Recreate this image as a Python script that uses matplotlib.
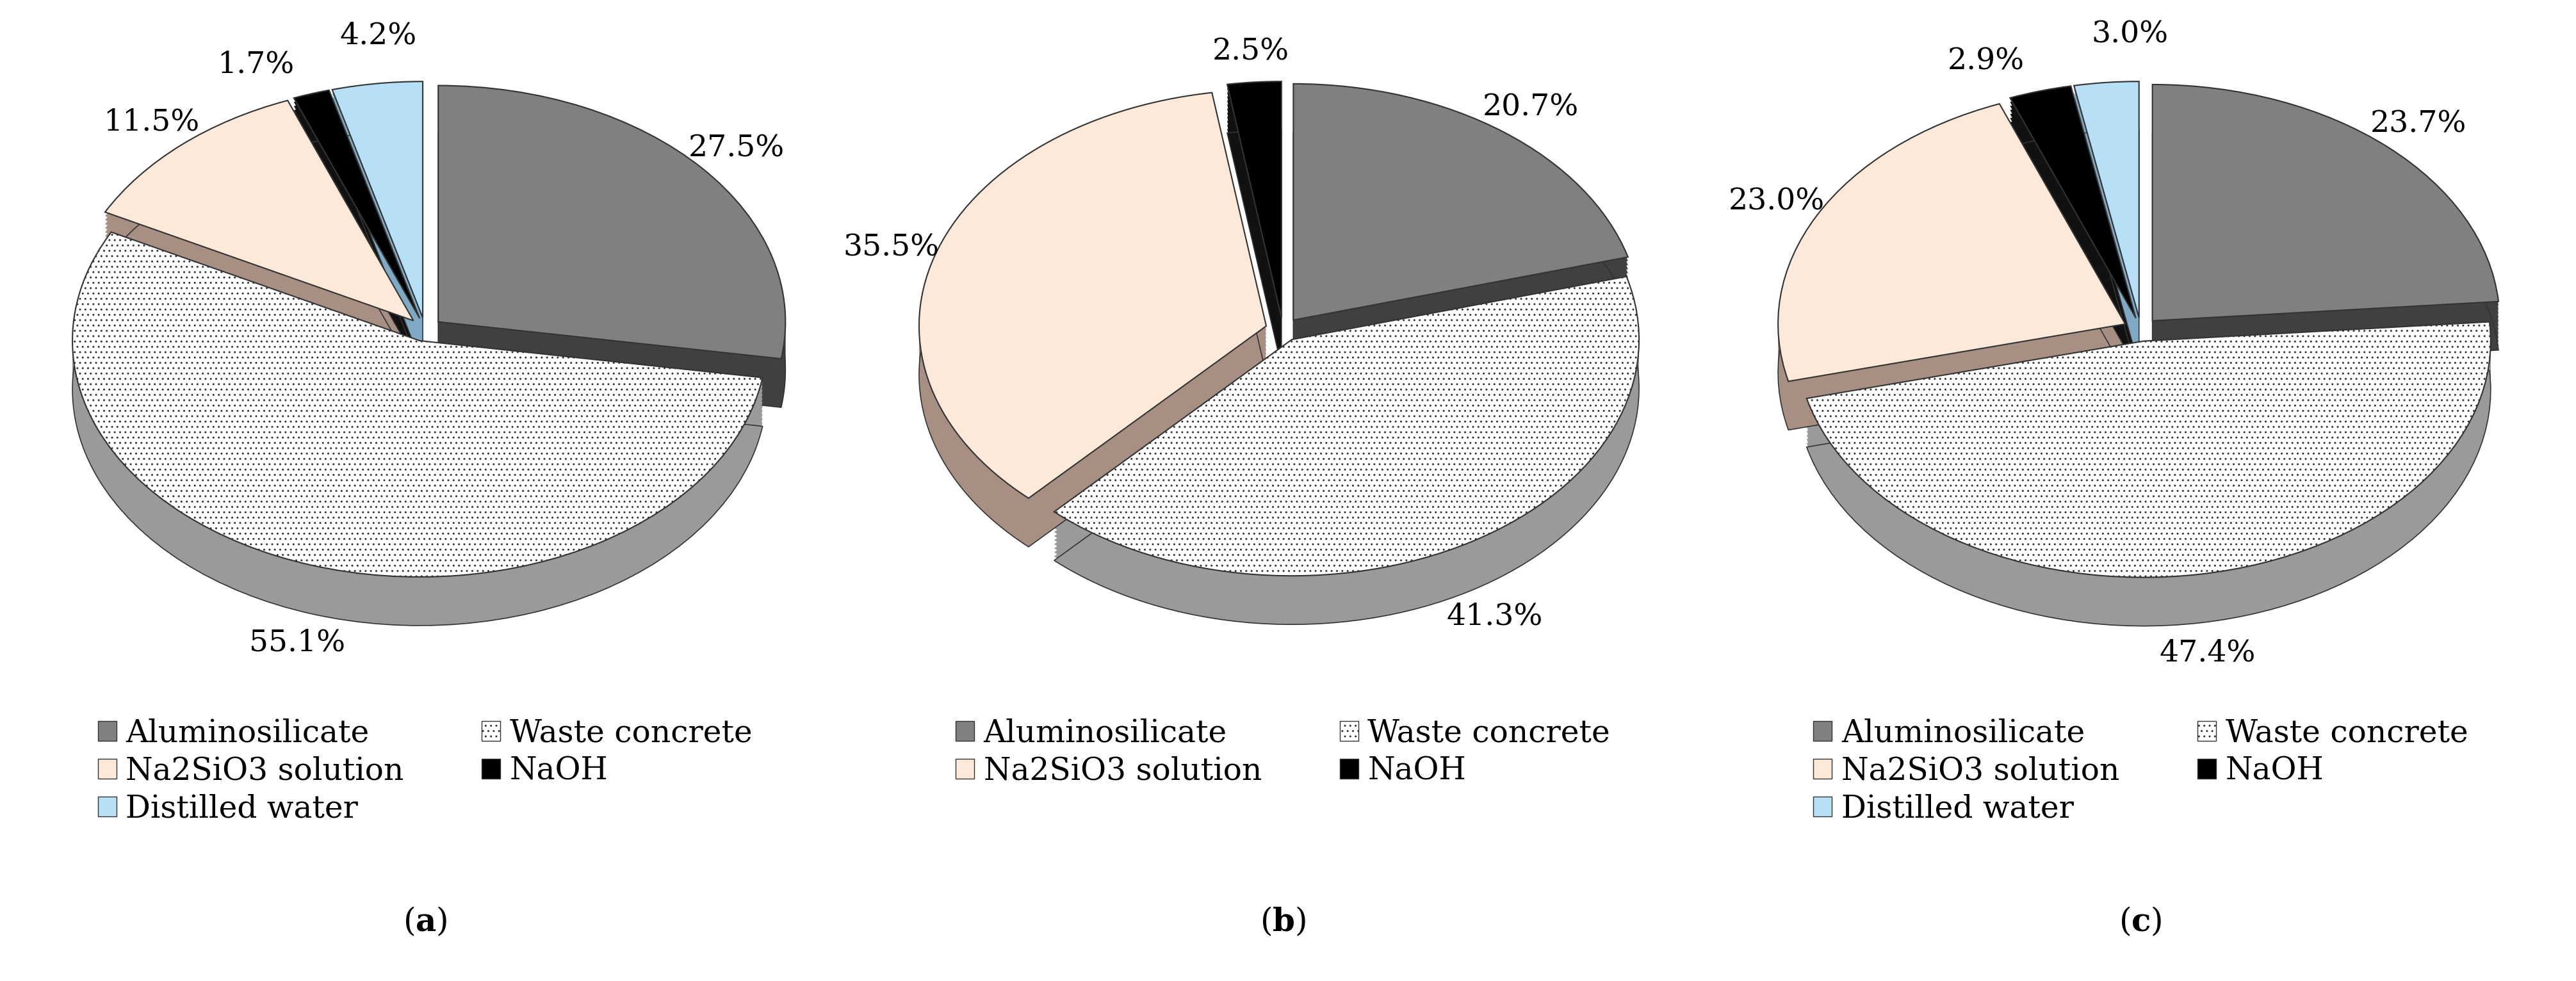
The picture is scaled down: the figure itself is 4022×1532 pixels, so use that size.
import numpy as np
import matplotlib.pyplot as plt
from matplotlib.patches import Wedge, Patch
from matplotlib.transforms import Affine2D

plt.rcParams['font.family'] = ['DejaVu Serif']
plt.rcParams['mathtext.fontset'] = 'dejavuserif'

names = ['Aluminosilicate', 'Waste concrete', 'Na2SiO3 solution', 'NaOH', 'Distilled water']
vals_a = [27.5, 55.1, 11.5, 1.7, 4.2]
vals_b = [20.7, 41.3, 35.5, 2.5]
vals_c = [23.7, 47.4, 23.0, 2.9, 3.0]
captions = ['a', 'b', 'c']

tops = ['#808080', 'white', '#fde9d9', 'black', '#b7dff5']
sides = ['#404040', '#9a9a9a', '#a88f84', '#111111', '#7fa9c4']
hatches = [None, '..', None, None, None]

SQ = 0.68     # vertical squash
DEPTH = 0.14
EXPL = 0.05


def draw_pie(ax, vals, cap, lab_off):
    tr = Affine2D().scale(1, SQ) + ax.transData
    tot = sum(vals)
    ang = 90.0
    wedges = []
    for i, v in enumerate(vals):
        span = 360 * v / tot
        a1, a2 = ang - span, ang
        mid = np.radians((a1 + a2) / 2)
        cx, cy = EXPL * np.cos(mid), EXPL * np.sin(mid)
        wedges.append((i, v, a1, a2, mid, cx, cy))
        ang = a1
    # side walls
    for i, v, a1, a2, mid, cx, cy in wedges:
        for k in range(12, 0, -1):
            dy = -DEPTH / SQ * k / 12
            ax.add_patch(Wedge((cx, cy + dy), 1, a1, a2, transform=tr, facecolor=sides[i],
                               edgecolor='none', hatch=hatches[i], lw=0))
        ax.add_patch(Wedge((cx, cy - DEPTH / SQ), 1, a1, a2, transform=tr,
                           facecolor='none', edgecolor='#333333', lw=1.2))
    # tops
    for i, v, a1, a2, mid, cx, cy in wedges:
        ax.add_patch(Wedge((cx, cy), 1, a1, a2, transform=tr, facecolor=tops[i],
                           edgecolor='#333333', lw=1.5, hatch=hatches[i]))
        dx, dy = lab_off.get(i, (0, 0))
        r = 1.18
        ax.text(r * np.cos(mid) + dx, r * np.sin(mid) * SQ + dy - (0.14 if np.sin(mid) < 0 else 0),
                f'{v:.1f}%', ha='center', va='center', fontsize=34)
    ax.set_xlim(-1.15, 1.15)
    ax.set_ylim(-1.0, 0.92)
    ax.axis('off')
    n = len(vals)
    order = [0, 2, 4, 1, 3] if n == 5 else [0, 2, 1, 3]
    handles = [Patch(facecolor=tops[i], edgecolor='#333333', hatch=hatches[i], label=names[i])
               for i in order]
    ax.legend(handles=handles, ncol=2, loc='upper center', bbox_to_anchor=(0.5, -0.02),
              frameon=False, fontsize=35, handlelength=0.6, handleheight=0.6,
              handletextpad=0.3, columnspacing=2.5, labelspacing=0.25)


fig = plt.figure(figsize=(40.22, 15.32), dpi=100)
offsets = [{3: (-0.12, 0.0), 4: (0.02, 0.05)}, {}, {3: (-0.12, 0.0), 4: (0.08, 0.05)}]
for j, vals in enumerate([vals_a, vals_b, vals_c]):
    ax = fig.add_axes([0.01 + j * 0.333, 0.31, 0.31, 0.68])
    draw_pie(ax, vals, captions[j], offsets[j])
    fig.text(0.01 + j * 0.333 + 0.155, 0.06, f'($\\mathbf{{{captions[j]}}}$)',
             ha='center', va='center', fontsize=36)

fig.savefig('out.png', dpi=100, facecolor='white')
